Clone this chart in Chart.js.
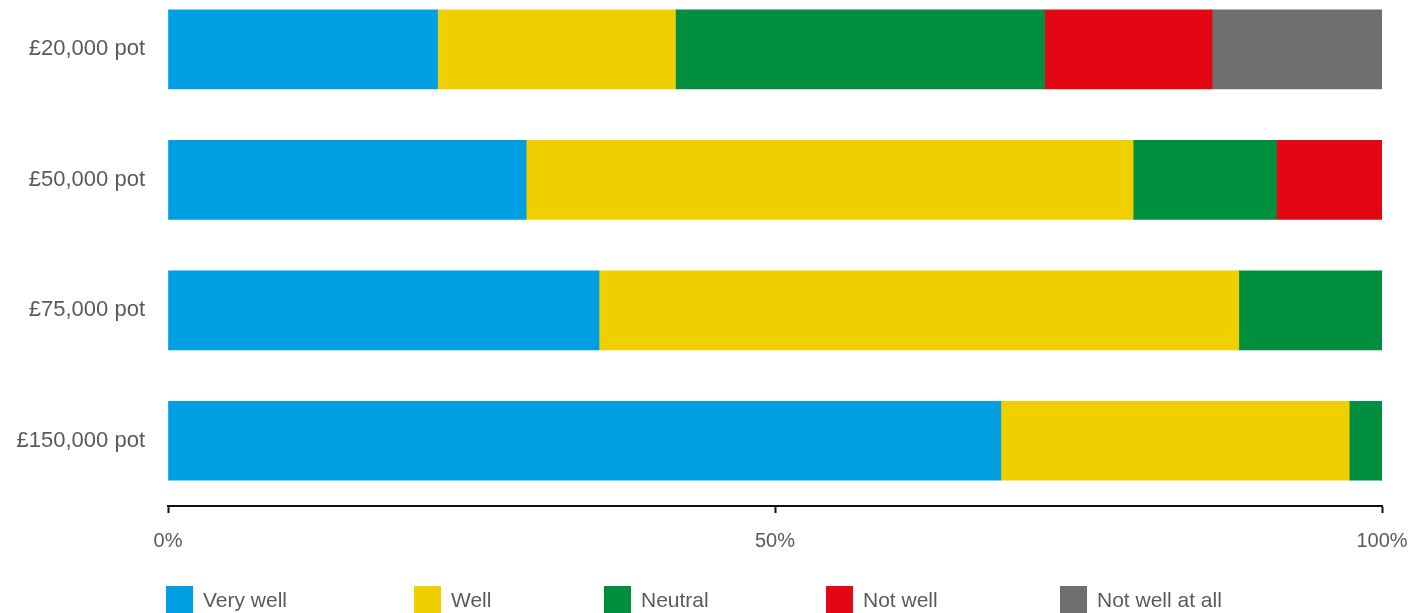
<!DOCTYPE html>
<html>
<head>
<meta charset="utf-8">
<script src="https://cdn.jsdelivr.net/npm/chart.js@4/dist/chart.umd.min.js"></script>
<style>
  html, body { margin: 0; padding: 0; background: #fff; overflow: hidden; }
  body { width: 1419px; height: 613px; position: relative; font-family: 'Liberation Sans', Arial, sans-serif; }
  #wrap { position: absolute; left: 0; top: -52px; width: 1419px; height: 665px; }
  #legend { position: absolute; left: 0; top: 586px; width: 1419px; height: 30px; }
  .item { position: absolute; top: 0; height: 27px; display: flex; align-items: center; color: #5a5a5a; font-size: 21px; }
  .item .sw { width: 27px; height: 27px; margin-right: 10px; }
</style>
</head>
<body>
<div id="wrap"><canvas id="chart"></canvas></div>
<div id="legend"></div>
<script>
const categories = ['£20,000 pot', '£50,000 pot', '£75,000 pot', '£150,000 pot'];
const seriesNames = ['Very well', 'Well', 'Neutral', 'Not well', 'Not well at all'];
const veryWell = [22.2, 29.5, 35.5, 68.6];
const well = [19.6, 50.0, 52.7, 28.7];
const neutral = [30.4, 11.8, 11.8, 2.7];
const notWell = [13.8, 8.7, 0, 0];
const notWellAtAll = [14.0, 0, 0, 0];
const xTicks = [0, 50, 100];

const colors = ['#009fe3', '#f0cf00', '#008f3e', '#e30613', '#706f6f'];
const legendLeft = [166, 414, 604, 826, 1060];

const seriesValues = [veryWell, well, neutral, notWell, notWellAtAll];
const textColor = '#5a5a5a';
const fontFamily = "'Liberation Sans', Arial, sans-serif";

const ctx = document.getElementById('chart').getContext('2d');
new Chart(ctx, {
    type: 'bar',
    data: {
        labels: categories,
        datasets: seriesNames.map((name, i) => ({
            label: name,
            data: seriesValues[i],
            backgroundColor: colors[i],
            borderWidth: 0,
            barThickness: 79
        }))
    },
    options: {
        indexAxis: 'y',
        responsive: true,
        maintainAspectRatio: false,
        animation: false,
        layout: { padding: { left: 0, right: 37, top: 0, bottom: 0 } },
        plugins: {
            legend: { display: false },
            tooltip: { enabled: false }
        },
        scales: {
            x: {
                stacked: true,
                min: 0,
                max: 100,
                afterBuildTicks: scale => { scale.ticks = xTicks.map(v => ({ value: v })); },
                afterFit: scale => {
                    scale.height = 107;
                    scale.paddingLeft = 0;
                    scale.paddingRight = 0;
                },
                ticks: {
                    color: textColor,
                    font: { family: fontFamily, size: 20 },
                    padding: 16,
                    maxRotation: 0,
                    callback: v => v + '%'
                },
                grid: { drawOnChartArea: false, drawTicks: true, tickLength: 7, tickWidth: 2, tickColor: '#111' },
                border: { display: true, color: '#111', width: 2 }
            },
            y: {
                stacked: true,
                afterFit: scale => { scale.width = 168; },
                ticks: { color: textColor, font: { family: fontFamily, size: 22 }, padding: 23 },
                grid: { display: false, drawTicks: false },
                border: { display: false }
            }
        }
    }
});

const legendEl = document.getElementById('legend');
seriesNames.forEach((name, i) => {
    const item = document.createElement('div');
    item.className = 'item';
    item.style.left = legendLeft[i] + 'px';
    item.innerHTML = '<span class="sw" style="background:' + colors[i] + '"></span>' + name;
    legendEl.appendChild(item);
});
</script>
</body>
</html>
